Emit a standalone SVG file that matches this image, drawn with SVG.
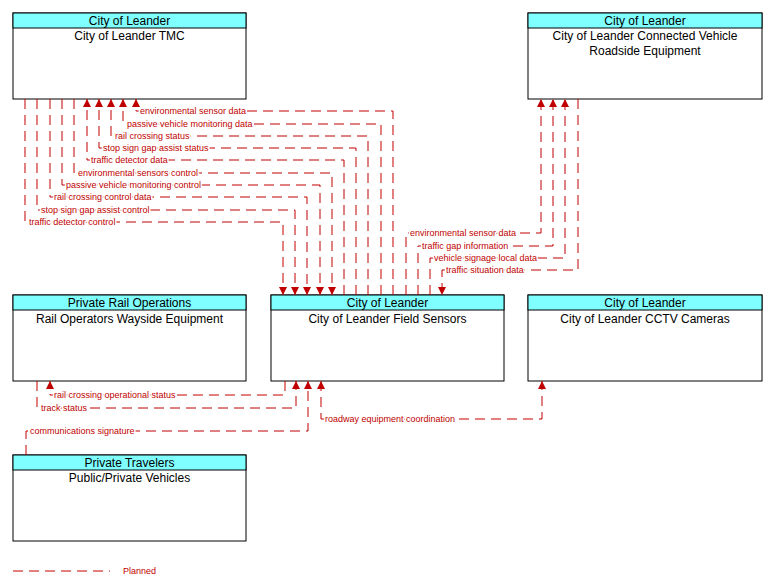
<svg xmlns="http://www.w3.org/2000/svg" width="771" height="588" viewBox="0 0 771 588">
<style>
.box{fill:#fff;stroke:#000;stroke-width:1}
.hd{fill:#7fffff;stroke:#000;stroke-width:1}
.t{font-family:"Liberation Sans",Arial,sans-serif;font-size:12px;text-anchor:middle;fill:#000}
.f{fill:none;stroke:#c00000;stroke-width:1;stroke-dasharray:10,6}
.l{font-family:"Liberation Sans",Arial,sans-serif;font-size:9px;fill:#c00000;stroke:#fff;stroke-width:3px;paint-order:stroke;stroke-linejoin:round}
</style>
<defs>
<marker id="a" viewBox="0 0 8 8" refX="8" refY="4" markerWidth="8" markerHeight="8" orient="auto-start-reverse" markerUnits="userSpaceOnUse">
<path d="M0,0 L8,4 L0,8 z" fill="#c00000"/>
</marker>
</defs>
<rect width="771" height="588" fill="#fff"/>
<g id="tmc"><rect class="box" x="13" y="13" width="233" height="86"/><rect class="hd" x="13" y="13" width="233" height="15"/>
<text class="t" x="129.5" y="25">City of Leander</text><text class="t" x="129.5" y="40">City of Leander TMC</text></g>
<g id="rse"><rect class="box" x="528" y="13" width="234" height="86"/><rect class="hd" x="528" y="13" width="234" height="15"/>
<text class="t" x="645" y="25">City of Leander</text><text class="t" x="645" y="40">City of Leander Connected Vehicle</text><text class="t" x="645" y="55">Roadside Equipment</text></g>
<g id="rail"><rect class="box" x="13" y="295" width="233" height="86"/><rect class="hd" x="13" y="295" width="233" height="15"/>
<text class="t" x="129.5" y="307">Private Rail Operations</text><text class="t" x="129.5" y="323">Rail Operators Wayside Equipment</text></g>
<g id="fs"><rect class="box" x="271" y="295" width="233" height="86"/><rect class="hd" x="271" y="295" width="233" height="15"/>
<text class="t" x="387.5" y="307">City of Leander</text><text class="t" x="387.5" y="323">City of Leander Field Sensors</text></g>
<g id="cctv"><rect class="box" x="528" y="295" width="234" height="86"/><rect class="hd" x="528" y="295" width="234" height="15"/>
<text class="t" x="645" y="307">City of Leander</text><text class="t" x="645" y="323">City of Leander CCTV Cameras</text></g>
<g id="veh"><rect class="box" x="13" y="455" width="233" height="86"/><rect class="hd" x="13" y="455" width="233" height="15"/>
<text class="t" x="129.5" y="467">Private Travelers</text><text class="t" x="129.5" y="482">Public/Private Vehicles</text></g>
<g id="connectors">
<path class="f" d="M393,295 V111 H136 V99" marker-end="url(#a)"/>
<path class="f" d="M381,295 V124 H123 V99" marker-end="url(#a)"/>
<path class="f" d="M368,295 V136 H111 V99" marker-end="url(#a)"/>
<path class="f" d="M356,295 V148 H99 V99" marker-end="url(#a)"/>
<path class="f" d="M344,295 V160 H87 V99" marker-end="url(#a)"/>
<path class="f" d="M74,99 V173 H332 V295" marker-end="url(#a)"/>
<path class="f" d="M62,99 V185 H320 V295" marker-end="url(#a)"/>
<path class="f" d="M50,99 V197 H307 V295" marker-end="url(#a)"/>
<path class="f" d="M37,99 V210 H295 V295" marker-end="url(#a)"/>
<path class="f" d="M25,99 V222 H283 V295" marker-end="url(#a)"/>
<path class="f" d="M406,295 V233 H541 V99" marker-end="url(#a)"/>
<path class="f" d="M418,295 V246 H553 V99" marker-end="url(#a)"/>
<path class="f" d="M430,295 V258 H565 V99" marker-end="url(#a)"/>
<path class="f" d="M578,99 V270 H442 V295" marker-end="url(#a)"/>
<path class="f" d="M285,381 V395 H50 V381" marker-end="url(#a)"/>
<path class="f" d="M37,381 V408 H296 V381" marker-end="url(#a)"/>
<path class="f" d="M26,455 V431 H308 V381" marker-end="url(#a)"/>
<path class="f" d="M321,381 V419 H542 V381" marker-end="url(#a)" marker-start="url(#a)"/>
<path class="f" d="M13,571 H110"/>
</g>
<g id="labels">
<text class="l" x="140" y="114">environmental sensor data</text>
<text class="l" x="127" y="127">passive vehicle monitoring data</text>
<text class="l" x="115" y="139">rail crossing status</text>
<text class="l" x="103" y="151">stop sign gap assist status</text>
<text class="l" x="91" y="163">traffic detector data</text>
<text class="l" x="78" y="176">environmental sensors control</text>
<text class="l" x="66" y="188">passive vehicle monitoring control</text>
<text class="l" x="54" y="200">rail crossing control data</text>
<text class="l" x="41" y="213">stop sign gap assist control</text>
<text class="l" x="29" y="225">traffic detector control</text>
<text class="l" x="410" y="236">environmental sensor data</text>
<text class="l" x="422" y="249">traffic gap information</text>
<text class="l" x="434" y="261">vehicle signage local data</text>
<text class="l" x="446" y="273">traffic situation data</text>
<text class="l" x="54" y="398">rail crossing operational status</text>
<text class="l" x="41" y="411">track status</text>
<text class="l" x="30" y="434">communications signature</text>
<text class="l" x="325" y="422">roadway equipment coordination</text>
<text class="l" x="123" y="574">Planned</text>
</g>
</svg>
